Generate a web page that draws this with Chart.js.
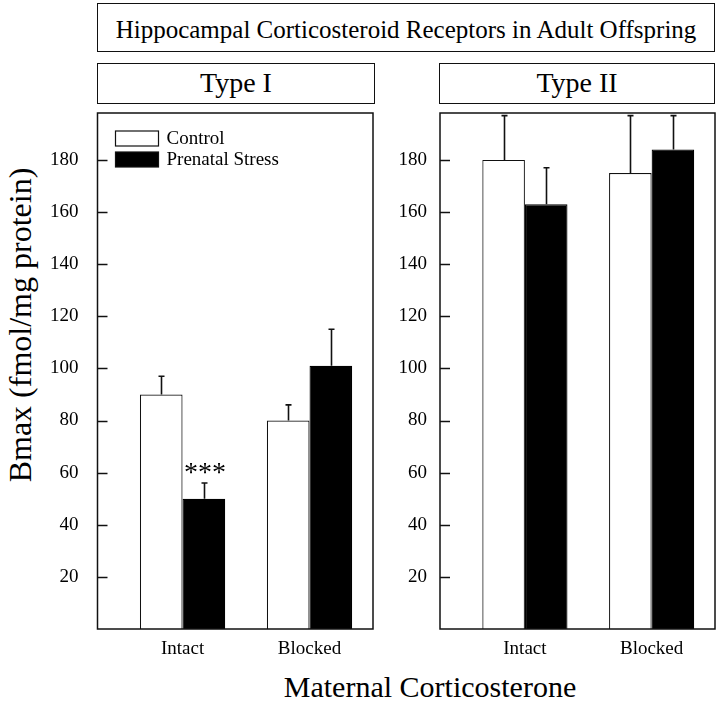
<!DOCTYPE html>
<html>
<head>
<meta charset="utf-8">
<script src="https://cdn.jsdelivr.net/npm/chart.js@4.4.1/dist/chart.umd.min.js"></script>
<style>
    body { margin: 0; background: #fff; font-family: 'Liberation Serif', 'Times New Roman', serif; color: #000; }
    #wrap { position: relative; width: 720px; height: 704px; overflow: hidden; }
    .box { position: absolute; border: 1.5px solid #111; box-sizing: border-box; text-align: center; }
    .label { position: absolute; text-align: center; white-space: nowrap; line-height: 1; }
    canvas { position: absolute; }
</style>
</head>
<body>
<div id="wrap">
    <div class="box" style="left:97px; top:3px; width:618px; height:49px; font-size:25px; line-height:25px; padding-top:13px;">Hippocampal Corticosteroid Receptors in Adult Offspring</div>
    <div class="box" style="left:97px; top:63px; width:278px; height:41px; font-size:28px; line-height:28px; padding-top:5px;">Type I</div>
    <div class="box" style="left:439px; top:63px; width:276px; height:41px; font-size:28px; line-height:28px; padding-top:5px;">Type II</div>
    <div class="label" style="left:-155px; top:309px; width:350px; font-size:32px; transform:rotate(-90deg);">Bmax (fmol/mg protein)</div>
    <div class="label" style="left:130px; top:672px; width:600px; font-size:30px;">Maternal Corticosterone</div>
    <div style="position:absolute; left:0; top:108px; width:380px; height:596px;"><canvas id="typeIChart"></canvas></div>
    <div style="position:absolute; left:380px; top:108px; width:340px; height:596px;"><canvas id="typeIIChart"></canvas></div>
</div>
<script>
const categories = ['Intact', 'Blocked'];
const seriesNames = ['Control', 'Prenatal Stress'];
const yTicks = [20, 40, 60, 80, 100, 120, 140, 160, 180];

// Type I receptors (mean and SEM)
const typeIControl = [90, 80];
const typeIControlSem = [7, 6];
const typeIStress = [50, 101];
const typeIStressSem = [6, 14];
const typeIStars = ['***', ''];  // marks on Prenatal Stress bars

// Type II receptors
const typeIIControl = [180, 175];
const typeIIControlSem = [17, 22];
const typeIIStress = [163, 184];
const typeIIStressSem = [14, 13];
const typeIIStars = ['', ''];

const FONT = "'Liberation Serif', 'Times New Roman', serif";

const framePlugin = {
    id: 'frame',
    afterDraw(chart) {
        const { ctx, chartArea: a } = chart;
        const y = chart.scales.y;
        ctx.save();
        ctx.strokeStyle = '#111';
        ctx.lineWidth = 1.5;
        ctx.strokeRect(a.left, a.top, a.right - a.left, a.bottom - a.top);
        // inward tick marks
        yTicks.forEach(v => {
            const py = Math.round(y.getPixelForValue(v)) + 0.5;
            ctx.beginPath();
            ctx.moveTo(a.left, py);
            ctx.lineTo(a.left + 10, py);
            ctx.stroke();
        });
        ctx.restore();
    }
};

const errorBarPlugin = {
    id: 'errorBars',
    afterDatasetsDraw(chart) {
        const { ctx } = chart;
        const y = chart.scales.y;
        ctx.save();
        ctx.strokeStyle = '#111';
        ctx.lineWidth = 1.6;
        chart.data.datasets.forEach((ds, di) => {
            const meta = chart.getDatasetMeta(di);
            meta.data.forEach((bar, i) => {
                const top = y.getPixelForValue(ds.data[i].y + ds.sem[i]);
                const x = Math.round(bar.x) + 0.5;
                ctx.beginPath();
                ctx.moveTo(x, bar.y);
                ctx.lineTo(x, top);
                ctx.moveTo(x - 3, top);
                ctx.lineTo(x + 3, top);
                ctx.stroke();
                if (ds.stars && ds.stars[i]) {
                    ctx.fillStyle = '#000';
                    ctx.font = '28px ' + FONT;
                    ctx.textAlign = 'center';
                    ctx.textBaseline = 'alphabetic';
                    ctx.fillText(ds.stars[i], bar.x + 1, top - 2);
                }
            });
        });
        ctx.restore();
    }
};

const insideLegendPlugin = {
    id: 'insideLegend',
    afterDraw(chart, args, opts) {
        if (!opts.show) return;
        const { ctx, chartArea: a } = chart;
        ctx.save();
        ctx.font = '19px ' + FONT;
        ctx.textBaseline = 'middle';
        ctx.textAlign = 'left';
        chart.data.datasets.forEach((ds, i) => {
            const bx = a.left + 18;
            const by = a.top + 18 + i * 21;
            ctx.fillStyle = ds.backgroundColor;
            ctx.fillRect(bx, by, 43, 15);
            ctx.strokeStyle = '#111';
            ctx.lineWidth = 1.2;
            ctx.strokeRect(bx, by, 43, 15);
            ctx.fillStyle = '#000';
            ctx.fillText(ds.label, bx + 51, by + 8);
        });
        ctx.restore();
    }
};

function makeChart(id, control, controlSem, stress, stressSem, stars, opts) {
    const canvas = document.getElementById(id);
    return new Chart(canvas, {
        type: 'bar',
        data: {
            datasets: [{
                label: seriesNames[0],
                data: categories.map((c, i) => ({ x: i + 1, y: control[i] })),
                sem: controlSem,
                backgroundColor: '#ffffff',
                borderColor: '#111',
                borderWidth: 1.2
            }, {
                label: seriesNames[1],
                data: categories.map((c, i) => ({ x: i + 1, y: stress[i] })),
                sem: stressSem,
                stars: stars,
                backgroundColor: '#000000',
                borderColor: '#000',
                borderWidth: 1.2
            }]
        },
        options: {
            responsive: true,
            maintainAspectRatio: false,
            animation: false,
            categoryPercentage: 0.672,
            barPercentage: 1.0,
            layout: { padding: { top: 5, right: opts.padRight, bottom: 0, left: 0 } },
            plugins: {
                legend: { display: false },
                tooltip: { enabled: false },
                insideLegend: { show: opts.legend }
            },
            scales: {
                x: {
                    type: 'linear',
                    offset: false,
                    min: 0.33,
                    max: 2.5,
                    afterBuildTicks: s => { s.ticks = categories.map((c, i) => ({ value: i + 1 })); },
                    afterFit: s => { s.height = 75; s.paddingLeft = 0; s.paddingRight = 0; },
                    grid: { display: false, drawTicks: false },
                    border: { display: false },
                    ticks: {
                        padding: 9,
                        maxRotation: 0,
                        color: '#000',
                        font: { family: FONT, size: 19 },
                        callback: v => categories[Math.round(v) - 1] || ''
                    }
                },
                y: {
                    min: 0,
                    max: 198,
                    afterBuildTicks: s => { s.ticks = yTicks.map(v => ({ value: v })); },
                    afterFit: s => { s.width = opts.yWidth; s.paddingTop = 0; s.paddingBottom = 0; },
                    grid: { display: false, drawTicks: false },
                    border: { display: false },
                    ticks: {
                        padding: opts.tickPad,
                        color: '#000',
                        font: { family: FONT, size: 19 }
                    }
                }
            }
        },
        plugins: [framePlugin, errorBarPlugin, insideLegendPlugin]
    });
}

makeChart('typeIChart', typeIControl, typeIControlSem, typeIStress, typeIStressSem, typeIStars,
    { legend: true, yWidth: 97.5, tickPad: 19, padRight: 7 });
makeChart('typeIIChart', typeIIControl, typeIIControlSem, typeIIStress, typeIIStressSem, typeIIStars,
    { legend: false, yWidth: 60, tickPad: 13, padRight: 5 });
</script>
</body>
</html>
